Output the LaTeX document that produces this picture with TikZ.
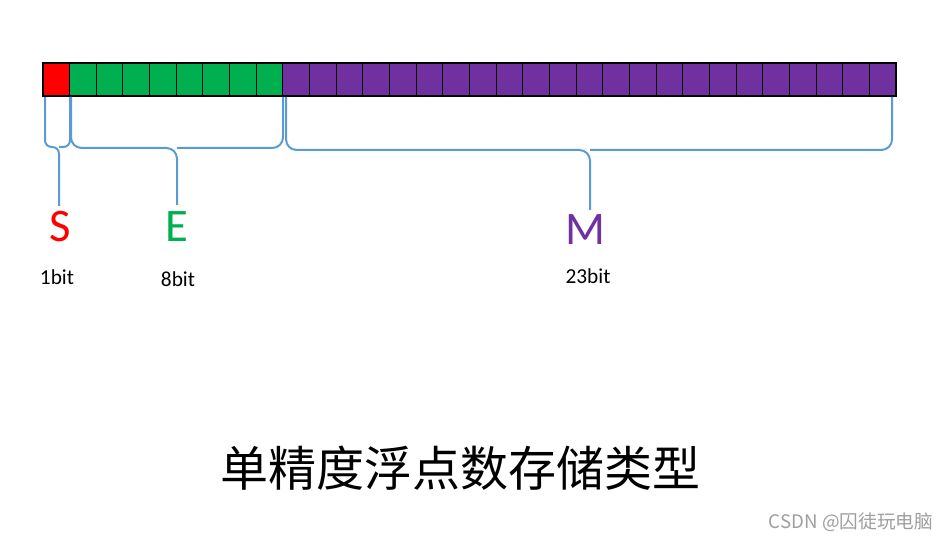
\documentclass[tikz,border=0pt]{standalone}
\usepackage{fontspec}
\setmainfont{Carlito}
\newfontfamily\cjk{Noto Sans CJK SC}
\usepackage{tikz}
\definecolor{signred}{RGB}{255,0,0}
\definecolor{expgreen}{RGB}{0,176,80}
\definecolor{manpurple}{RGB}{112,48,160}
\definecolor{braceblue}{RGB}{91,155,213}
\tikzset{
  cell/.style={rectangle, draw=black, line width=0.7pt, minimum width=20pt, minimum height=24.75pt, inner sep=0pt, outer sep=0pt},
  bracket/.style={draw=braceblue, line width=1.5pt, rounded corners=5pt},
  field/.style={inner sep=0pt, font=\fontsize{35}{35}\selectfont},
  bits/.style={inner sep=0pt, font=\fontsize{16}{16}\selectfont},
}

\begin{document}
\begin{tikzpicture}[x=0.75pt, y=-0.75pt]
  \useasboundingbox (0,0) rectangle (952,541);

  % 32 bit cells
  \node[cell, fill=signred] (c0) at ({43+26.656*0.5}, 79.5) {};
  \foreach \i in {1,...,8}
    \node[cell, fill=expgreen] (c\i) at ({43+26.656*(\i+0.5)}, 79.5) {};
  \foreach \i in {9,...,31}
    \node[cell, fill=manpurple] (c\i) at ({43+26.656*(\i+0.5)}, 79.5) {};
  \draw[line width=1.1pt] (c0.north west) rectangle (c31.south east);

  % braces
  \draw[bracket] (45,97) |- (59,147) -- (59,206);
  \draw[bracket] (70,97) |- (59,147);
  \draw[bracket, rounded corners=8pt] (71,97) |- (177,148) -- (177,205);
  \draw[bracket, rounded corners=8pt] (283,97) |- (177,148);
  \draw[bracket, rounded corners=8pt] (286,97) |- (590,150) -- (590,210);
  \draw[bracket, rounded corners=8pt] (892,97) |- (590,150);

  % field names
  \node[field, text=signred] (S) at (60,227) {S};
  \node[field, text=expgreen] (E) at (177,227) {E};
  \node[field, text=manpurple] (M) at (585,230) {M};

  \node[bits] (sbits) at (57,277) {1bit};
  \node[bits] (ebits) at (178,279) {8bit};
  \node[bits] (mbits) at (588,276) {23bit};

  \node[inner sep=0pt, font=\cjk\fontsize{36}{36}\selectfont] (title) at (460,468) {单精度浮点数存储类型};
  \node[inner sep=0pt, text=black!38, font=\cjk\fontsize{14}{14}\selectfont] (mark) at (851,522) {CSDN @囚徒玩电脑};
\end{tikzpicture}
\end{document}
